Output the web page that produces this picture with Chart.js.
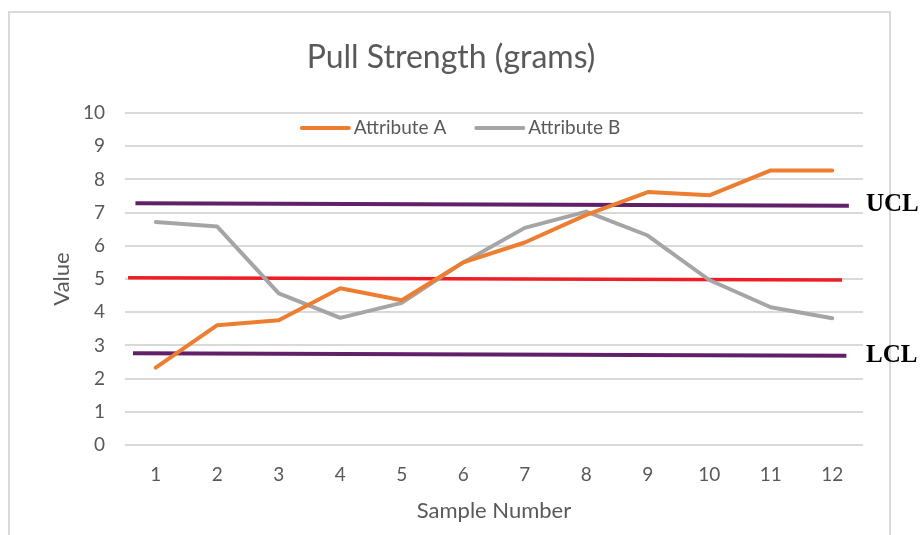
<!DOCTYPE html>
<html>
<head>
<meta charset="utf-8">
<script src="https://cdn.jsdelivr.net/npm/chart.js@4.4.1/dist/chart.umd.min.js"></script>
<style>
  html, body { margin: 0; padding: 0; background: #fff; }
  #wrap { position: relative; width: 920px; height: 535px; overflow: hidden; }
  #frame { position: absolute; left: 8px; top: 11px; width: 883px; height: 600px; border: 2px solid #d9d9d9; box-sizing: border-box; }
  #myChart { position: absolute; left: 0; top: 0; }
</style>
</head>
<body>
<div id="wrap">
  <div id="frame"></div>
  <canvas id="myChart" width="920" height="535"></canvas>
</div>
<script>
const samples = ['1', '2', '3', '4', '5', '6', '7', '8', '9', '10', '11', '12'];
const attributeA = [2.33, 3.61, 3.76, 4.72, 4.36, 5.5, 6.1, 6.93, 7.62, 7.52, 8.27, 8.27];
const attributeB = [6.72, 6.58, 4.57, 3.83, 4.28, 5.5, 6.54, 7.03, 6.31, 4.97, 4.15, 3.82];
const yTicks = [0, 1, 2, 3, 4, 5, 6, 7, 8, 9, 10];

// control lines (drawn in over the chart, slightly tilted like the original)
const uclLine = [{ x: 0.67, y: 7.28 }, { x: 12.27, y: 7.21 }];
const centerLine = [{ x: 0.55, y: 5.04 }, { x: 12.16, y: 4.97 }];
const lclLine = [{ x: 0.63, y: 2.76 }, { x: 12.23, y: 2.69 }];

const textColor = '#595959';
const fontFam = 'Lato, "Open Sans", sans-serif';

// legend drawn inside the plot like the excel one
const lineLegend = {
    id: 'lineLegend',
    afterDatasetsDraw(chart) {
        const ctx = chart.ctx;
        const items = chart.data.datasets.filter(d => d.showInLegend);
        const lineLen = 51, gap = 3, between = 28;
        ctx.save();
        ctx.font = '19px ' + fontFam;
        let total = 0;
        items.forEach((d, i) => {
            total += lineLen + gap + ctx.measureText(d.label).width;
            if (i > 0) total += between;
        });
        let x = 460 - total / 2;
        const y = 128;
        items.forEach(d => {
            ctx.strokeStyle = d.borderColor;
            ctx.lineWidth = 4;
            ctx.lineCap = 'round';
            ctx.beginPath();
            ctx.moveTo(x + 2, y);
            ctx.lineTo(x + lineLen - 2, y);
            ctx.stroke();
            x += lineLen + gap;
            ctx.fillStyle = textColor;
            ctx.textBaseline = 'middle';
            ctx.textAlign = 'left';
            ctx.fillText(d.label, x, y);
            x += ctx.measureText(d.label).width + between;
        });
        ctx.restore();
    }
};

// UCL / LCL text at the right end of the lines
const limitLabels = {
    id: 'limitLabels',
    afterDatasetsDraw(chart) {
        const ctx = chart.ctx;
        const yScale = chart.scales.y;
        const xPos = chart.chartArea.right + 3;
        ctx.save();
        ctx.font = 'bold 25px "Liberation Serif", "Times New Roman", serif';
        ctx.fillStyle = '#000';
        ctx.textBaseline = 'middle';
        ctx.fillText('UCL', xPos, yScale.getPixelForValue(uclLine[1].y) - 1);
        ctx.fillText('LCL', xPos, yScale.getPixelForValue(lclLine[1].y));
        ctx.restore();
    }
};

const ctx = document.getElementById('myChart').getContext('2d');
new Chart(ctx, {
    type: 'line',
    data: {
        labels: samples,
        datasets: [{
            label: 'Attribute A',
            data: attributeA,
            borderColor: '#ED7D31',
            borderWidth: 4,
            pointRadius: 0,
            borderJoinStyle: 'round',
            borderCapStyle: 'round',
            showInLegend: true
        }, {
            label: 'Attribute B',
            data: attributeB,
            borderColor: '#A5A5A5',
            borderWidth: 4,
            pointRadius: 0,
            borderJoinStyle: 'round',
            borderCapStyle: 'round',
            showInLegend: true
        }, {
            label: 'UCL',
            data: uclLine,
            xAxisID: 'x2',
            borderColor: '#612068',
            borderWidth: 4,
            pointRadius: 0
        }, {
            label: 'Center',
            data: centerLine,
            xAxisID: 'x2',
            borderColor: '#EE1D26',
            borderWidth: 3.5,
            pointRadius: 0
        }, {
            label: 'LCL',
            data: lclLine,
            xAxisID: 'x2',
            borderColor: '#612068',
            borderWidth: 4,
            pointRadius: 0
        }]
    },
    options: {
        responsive: false,
        animation: false,
        layout: { padding: { left: 39, right: 57, top: 0, bottom: 0 } },
        plugins: {
            legend: { display: false },
            tooltip: { enabled: false },
            title: {
                display: true,
                text: 'Pull Strength (grams)',
                color: textColor,
                font: { family: fontFam, size: 32, weight: 'normal', lineHeight: 1.2 },
                padding: { top: 38, bottom: 36.6 }
            }
        },
        scales: {
            x: {
                offset: true,
                grid: { display: false },
                border: { display: false },
                ticks: { color: textColor, font: { family: fontFam, size: 19 }, padding: 10 },
                title: {
                    display: true,
                    text: 'Sample Number',
                    color: textColor,
                    font: { family: fontFam, size: 22 },
                    padding: { top: 4, bottom: 11 }
                },
                afterFit(scale) { scale.height = 90; }
            },
            x2: {
                type: 'linear',
                display: false,
                min: 0.5,
                max: 12.5
            },
            y: {
                min: 0,
                max: 10,
                afterBuildTicks(scale) { scale.ticks = yTicks.map(v => ({ value: v })); },
                grid: { color: '#D9D9D9', lineWidth: 2, drawTicks: false },
                border: { display: false },
                ticks: { color: textColor, font: { family: fontFam, size: 19 }, padding: 20 },
                title: {
                    display: true,
                    text: 'Value',
                    color: textColor,
                    font: { family: fontFam, size: 22 },
                    padding: { top: 10, bottom: 0 }
                },
                afterFit(scale) { scale.width = 86; }
            }
        }
    },
    plugins: [lineLegend, limitLabels]
});
</script>
</body>
</html>
